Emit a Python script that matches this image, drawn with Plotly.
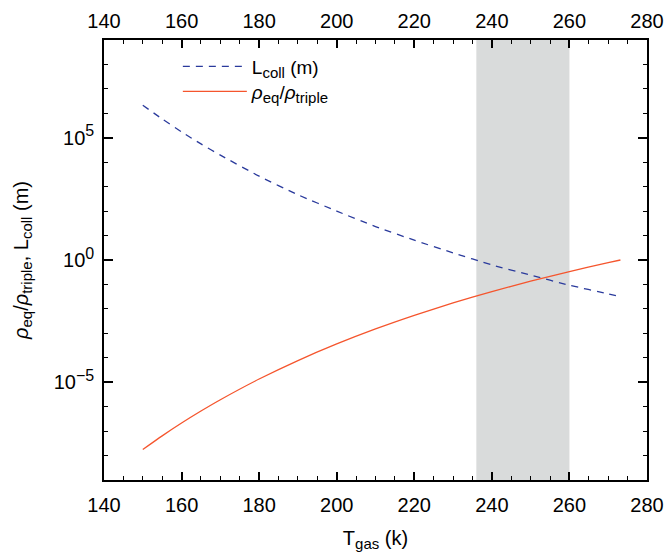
import plotly.graph_objects as go

# Gas temperature (K)
t_gas = [150, 155, 160, 165, 170, 180, 190, 200, 210, 220, 230, 240, 250, 260, 270, 273.15]
# Collision length L_coll (m)
l_coll = [2.14e6, 5.9e5, 1.74e5, 5.6e4, 1.95e4, 2.69e3, 4.68e2, 1.0e2, 2.34e1, 6.46,
          1.95, 0.63, 0.24, 0.093, 0.041, 0.0316]
# rho_eq / rho_triple
rho_ratio = [1.77e-8, 6.40e-8, 2.14e-7, 6.62e-7, 1.92e-6, 1.35e-5, 7.69e-5, 3.67e-4,
             1.51e-3, 5.43e-3, 1.75e-2, 5.09e-2, 0.136, 0.337, 0.778, 1.0]
# shaded temperature band
band = [236, 260]
x_ticks = [140, 160, 180, 200, 220, 240, 260, 280]
y_ticks = [1e-5, 1, 1e5]
y_ticktext = ["10<sup><span style='font-size:16px'>\u22125</span></sup>",
              "10<sup><span style='font-size:16px'>0</span></sup>",
              "10<sup><span style='font-size:16px'>5</span></sup>"]
y_minor = [10.0 ** k for k in range(-9, 10)]

FONT = "Liberation Sans, Arial, sans-serif"


def sub(s):
    return "<sub><span style='font-size:15px'>" + s + "</span></sub>"


RHO = "<i>\u03c1</i>"
name_l = "L" + sub("coll") + " (m)"
name_r = RHO + sub("eq") + "/" + RHO + sub("triple")

fig = go.Figure()
fig.add_trace(go.Scatter(
    x=t_gas, y=l_coll, mode="lines", name=name_l, legend="legend",
    line=dict(color="#2a3a9c", width=1.3, dash="7px,6px", shape="spline", smoothing=0.6)))
fig.add_trace(go.Scatter(
    x=t_gas, y=rho_ratio, mode="lines", name=name_r, legend="legend2",
    line=dict(color="#f5552d", width=1.3, shape="spline", smoothing=0.6)))
# invisible trace to activate the top axis
fig.add_trace(go.Scatter(x=t_gas, y=rho_ratio, xaxis="x2", mode="lines",
                         line=dict(color="rgba(0,0,0,0)"), showlegend=False,
                         hoverinfo="skip"))

fig.add_shape(type="rect", xref="x", yref="paper", x0=band[0], x1=band[1], y0=0, y1=1,
              fillcolor="#d9dbdb", line=dict(width=0), layer="below")

axis_common = dict(
    range=[140, 280], tickmode="array", tickvals=x_ticks, ticks="inside", ticklen=8,
    tickwidth=1.5, tickcolor="black", showline=True, linecolor="black", linewidth=1.5,
    showgrid=False, zeroline=False, tickfont=dict(size=20, color="black", family=FONT),
    automargin=False,
    minor=dict(dtick=5, tick0=140, ticks="inside", ticklen=4, tickwidth=1.2,
               tickcolor="black", showgrid=False),
)

legend_style = dict(xanchor="left", yanchor="top", bgcolor="rgba(0,0,0,0)",
                    font=dict(size=19, family=FONT), itemwidth=64)

fig.update_layout(
    width=666, height=555,
    margin=dict(l=104, r=19, t=40, b=75),
    paper_bgcolor="white", plot_bgcolor="white",
    font=dict(family=FONT, color="black", size=20),
    showlegend=True,
    legend=dict(x=0.136, y=0.983, **legend_style),
    legend2=dict(x=0.136, y=0.926, **legend_style),
    xaxis=dict(**axis_common, mirror=False, ticklabelstandoff=6,
               title=dict(text="T" + sub("gas") + " (k)", font=dict(size=20), standoff=16)),
    xaxis2=dict(**axis_common, overlaying="x", side="top", anchor="y", ticklabelstandoff=2),
    yaxis=dict(type="log", range=[-9, 9], tickmode="array", tickvals=y_ticks,
               ticktext=y_ticktext, ticks="inside", ticklen=9, tickwidth=1.5,
               tickcolor="black", showline=True, linecolor="black", linewidth=1.5,
               mirror="ticks", showgrid=False, zeroline=False, automargin=False,
               ticklabelstandoff=4,
               tickfont=dict(size=20, color="black", family=FONT),
               minor=dict(tickmode="array", tickvals=y_minor, ticks="inside", ticklen=4.5,
                          tickwidth=1.2, tickcolor="black", showgrid=False),
               title=dict(text=name_r + ", " + name_l, font=dict(size=20), standoff=20)),
)

# remove the default 8px page margin so the figure sits at the window origin
fig.write_html("out.html", config={"displayModeBar": False},
               post_script="document.body.style.margin='0';")
